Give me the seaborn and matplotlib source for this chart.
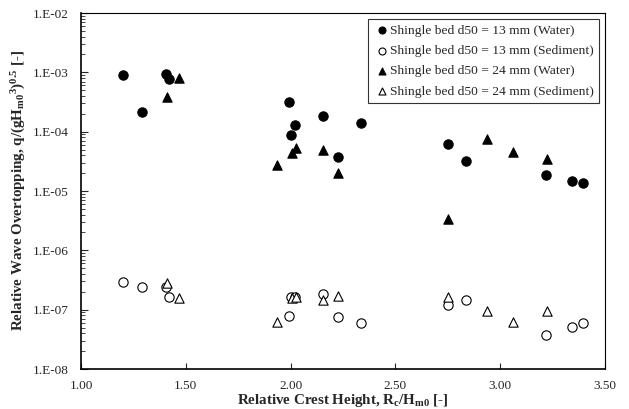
import numpy as np
import pandas as pd
import matplotlib
matplotlib.use("Agg")
import matplotlib.pyplot as plt
from matplotlib.ticker import FixedLocator, FuncFormatter, LogLocator, NullFormatter
import seaborn as sns

# d50 = 13 mm, water
x13_w = [1.20, 1.29, 1.406, 1.421, 1.992, 2.002, 2.021, 2.156, 2.225, 2.336, 2.749, 2.835, 3.219, 3.341, 3.394]
q13_w = [9.0e-4, 2.17e-4, 9.4e-4, 7.6e-4, 3.16e-4, 8.7e-5, 1.31e-4, 1.82e-4, 3.8e-5, 1.42e-4, 6.2e-5, 3.24e-5, 1.86e-5, 1.47e-5, 1.38e-5]
# d50 = 13 mm, sediment
x13_s = [1.20, 1.29, 1.406, 1.421, 1.994, 2.002, 2.021, 2.156, 2.225, 2.336, 2.749, 2.835, 3.219, 3.341, 3.394]
q13_s = [2.96e-7, 2.38e-7, 2.38e-7, 1.66e-7, 7.8e-8, 1.66e-7, 1.62e-7, 1.81e-7, 7.6e-8, 6.0e-8, 1.2e-7, 1.46e-7, 3.74e-8, 5.2e-8, 5.9e-8]
# d50 = 24 mm, water
x24_w = [1.409, 1.469, 1.934, 2.005, 2.026, 2.156, 2.228, 2.753, 2.936, 3.06, 3.222]
q24_w = [3.9e-4, 7.9e-4, 2.74e-5, 4.4e-5, 5.4e-5, 5.0e-5, 2.0e-5, 3.4e-6, 7.4e-5, 4.5e-5, 3.46e-5]
# d50 = 24 mm, sediment
x24_s = [1.409, 1.469, 1.934, 2.005, 2.026, 2.156, 2.228, 2.753, 2.936, 3.06, 3.222]
q24_s = [2.78e-7, 1.55e-7, 6.3e-8, 1.55e-7, 1.62e-7, 1.46e-7, 1.70e-7, 1.62e-7, 9.5e-8, 6.1e-8, 9.6e-8]

labels = ["Shingle bed d50 = 13 mm (Water)",
          "Shingle bed d50 = 13 mm (Sediment)",
          "Shingle bed d50 = 24 mm (Water)",
          "Shingle bed d50 = 24 mm (Sediment)"]

sns.set_style("ticks")
plt.rcParams["font.family"] = ["Liberation Serif", "DejaVu Serif"]
plt.rcParams["mathtext.fontset"] = "custom"
plt.rcParams["mathtext.rm"] = "Liberation Serif:bold"
plt.rcParams["mathtext.it"] = "Liberation Serif:bold"
plt.rcParams["mathtext.bf"] = "Liberation Serif:bold"

fig = plt.figure(figsize=(6.29, 4.09), dpi=100)
ax = fig.add_axes([81 / 629, 1 - 369 / 409, 524 / 629, 356 / 409])

series = [(x13_w, q13_w, "o", "black"),
          (x13_s, q13_s, "o", "white"),
          (x24_w, q24_w, "^", "black"),
          (x24_s, q24_s, "^", "white")]

for (xs, ys, mk, fc), lab in zip(series, labels):
    df = pd.DataFrame({"x": xs, "q": ys})
    sns.scatterplot(data=df, x="x", y="q", marker=mk, s=45, color=fc,
                    edgecolor="black", linewidth=0.8, label=lab, ax=ax, zorder=3)

ax.set_yscale("log")
ax.set_xlim(1.0, 3.5)
ax.set_ylim(1e-8, 1e-2)
ax.xaxis.set_major_locator(FixedLocator([1.0, 1.5, 2.0, 2.5, 3.0, 3.5]))
ax.xaxis.set_major_formatter(FuncFormatter(lambda v, p: f"{v:.2f}"))
ax.xaxis.set_minor_locator(FixedLocator([]))
ax.yaxis.set_major_locator(LogLocator(base=10, numticks=10))
ax.yaxis.set_minor_locator(LogLocator(base=10, subs=np.arange(2, 10), numticks=20))
ax.yaxis.set_minor_formatter(NullFormatter())
ax.yaxis.set_major_formatter(FuncFormatter(lambda v, p: "1.E-%02d" % round(-np.log10(v))))

ax.tick_params(axis="x", direction="in", length=4, width=0.8, labelsize=9.5, pad=8)
ax.tick_params(axis="y", which="major", direction="in", length=5, width=0.8, labelsize=9.5, pad=9)
ax.tick_params(axis="y", which="minor", direction="in", length=3, width=0.6)

for sp in ax.spines.values():
    sp.set_color("black")
    sp.set_linewidth(0.8)
ax.spines["left"].set_linewidth(1.2)
ax.spines["bottom"].set_linewidth(1.2)

ax.set_xlabel("Relative Crest Height, R$_c$/H$_{m0}$ [-]", fontsize=10.8, fontweight="bold", labelpad=0)
ax.set_ylabel("Relative Wave Overtopping, q/(gH$_{m0}$$^3$)$^{0.5}$ [-]", fontsize=10.8,
              fontweight="bold", labelpad=3)

leg = ax.legend(loc="upper right", bbox_to_anchor=(0.989, 0.983), fontsize=9.7, frameon=True,
                fancybox=False, edgecolor="black", handletextpad=0.0, handlelength=1.2,
                borderpad=0.4, labelspacing=0.58, markerscale=0.75, borderaxespad=0.0)
leg.get_frame().set_linewidth(0.8)

fig.savefig("out.png", dpi=100)
